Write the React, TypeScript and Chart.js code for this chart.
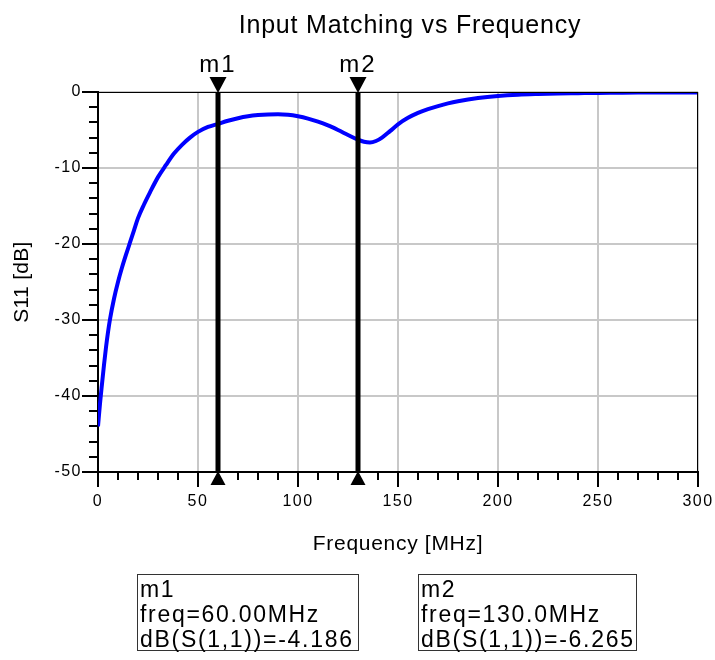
import React, { useEffect, useRef } from 'react';
import { Chart, registerables } from 'chart.js';

Chart.register(...registerables);

const freqMHz = [0, 1, 2, 3, 4, 5, 6, 8, 10, 12, 14, 16, 18, 20, 23, 26, 30, 34, 38, 42, 46, 50, 55, 60, 65, 70, 75, 80, 85, 90, 95, 100, 105, 110, 115, 120, 125, 130, 133, 136, 139, 142, 146, 150, 155, 160, 165, 170, 175, 180, 190, 200, 210, 220, 230, 240, 250, 260, 270, 280, 290, 300];
const s11dB = [-44.0, -41.0, -38.4, -35.9, -33.6, -31.6, -29.9, -27.2, -25.0, -23.1, -21.4, -19.8, -18.2, -16.6, -14.8, -13.2, -11.2, -9.6, -8.1, -6.95, -6.0, -5.25, -4.6, -4.19, -3.78, -3.45, -3.2, -3.04, -2.95, -2.93, -3.0, -3.2, -3.5, -3.9, -4.4, -5.0, -5.65, -6.27, -6.55, -6.65, -6.45, -6.0, -5.15, -4.25, -3.4, -2.75, -2.25, -1.85, -1.5, -1.22, -0.8, -0.52, -0.35, -0.26, -0.2, -0.16, -0.12, -0.1, -0.08, -0.07, -0.06, -0.05];

const xMajorTicks = [0, 50, 100, 150, 200, 250, 300];
const yMajorTicks = [0, -10, -20, -30, -40, -50];

const markerNames = ['m1', 'm2'];
const markerFreqs = [60, 130];
const markerFreqText = ['60.00MHz', '130.0MHz'];
const markerValueText = ['-4.186', '-6.265'];

const chartTitle = 'Input Matching vs Frequency';
const xTitle = 'Frequency [MHz]';
const yTitle = 'S11 [dB]';

const FONT = '"Liberation Sans", Arial, sans-serif';

const decor = {
  id: 'decor',
  beforeDraw(chart: any) {
    chart.ctx.letterSpacing = '1.5px';
  },
  afterDatasetsDraw(chart: any) {
    const { ctx, chartArea: a, scales } = chart;
    const x = scales.x;
    const y = scales.y;
    ctx.save();
    ctx.strokeStyle = '#000';
    ctx.fillStyle = '#000';
    // top & right frame
    ctx.lineWidth = 1;
    ctx.beginPath();
    ctx.moveTo(a.left, a.top + 0.5);
    ctx.lineTo(a.right, a.top + 0.5);
    ctx.moveTo(a.right - 0.5, a.top);
    ctx.lineTo(a.right - 0.5, a.bottom);
    ctx.stroke();
    // tick marks
    ctx.lineWidth = 2;
    ctx.beginPath();
    x.ticks.forEach((t: any) => {
      const v = Math.round(t.value);
      const px = Math.round(x.getPixelForValue(v));
      const len = xMajorTicks.includes(v) ? 15 : 8;
      ctx.moveTo(px, a.bottom);
      ctx.lineTo(px, a.bottom + len);
    });
    y.ticks.forEach((t: any) => {
      const v = Math.round(t.value);
      const py = Math.round(y.getPixelForValue(v));
      const len = yMajorTicks.includes(v) ? 16 : 9;
      ctx.moveTo(a.left - len, py);
      ctx.lineTo(a.left, py);
    });
    ctx.stroke();
    // markers
    markerFreqs.forEach((f, i) => {
      const px = x.getPixelForValue(f);
      ctx.lineWidth = 5;
      ctx.beginPath();
      ctx.moveTo(px, a.top);
      ctx.lineTo(px, a.bottom);
      ctx.stroke();
      ctx.beginPath();
      ctx.moveTo(px - 8.5, a.top - 15);
      ctx.lineTo(px + 8.5, a.top - 15);
      ctx.lineTo(px, a.top + 1);
      ctx.closePath();
      ctx.fill();
      ctx.beginPath();
      ctx.moveTo(px - 7.5, a.bottom + 13);
      ctx.lineTo(px + 7.5, a.bottom + 13);
      ctx.lineTo(px, a.bottom - 1);
      ctx.closePath();
      ctx.fill();
      ctx.font = `24px ${FONT}`;
      ctx.letterSpacing = '2px';
      ctx.textAlign = 'center';
      ctx.textBaseline = 'alphabetic';
      ctx.fillText(markerNames[i], px, a.top - 20);
    });
    // axis titles
    ctx.letterSpacing = '0.7px';
    ctx.font = `21px ${FONT}`;
    ctx.textAlign = 'center';
    ctx.textBaseline = 'alphabetic';
    ctx.fillText(xTitle, (a.left + a.right) / 2, 550);
    ctx.translate(28, (a.top + a.bottom) / 2);
    ctx.rotate(-Math.PI / 2);
    ctx.letterSpacing = '0.3px';
    ctx.fillText(yTitle, 0, 0);
    ctx.restore();
  },
};

export default function App() {
  const canvasRef = useRef<HTMLCanvasElement | null>(null);

  useEffect(() => {
    document.body.style.margin = '0';
    const canvas = canvasRef.current;
    if (!canvas) return;
    const chart = new Chart(canvas, {
      type: 'line',
      data: {
        datasets: [
          {
            data: freqMHz.map((f, i) => ({ x: f, y: s11dB[i] })),
            borderColor: '#0000ff',
            borderWidth: 4,
            pointRadius: 0,
            cubicInterpolationMode: 'monotone',
            fill: false,
          },
        ],
      },
      options: {
        responsive: false,
        animation: false,
        events: [],
        layout: { padding: { top: 92, right: 17, bottom: 0, left: 0 } },
        plugins: {
          legend: { display: false },
          tooltip: { enabled: false },
          title: { display: false },
        },
        scales: {
          x: {
            type: 'linear',
            min: 0,
            max: 300,
            afterFit: (s: any) => {
              s.height = 188;
              s.paddingLeft = 0;
              s.paddingRight = 0;
            },
            ticks: {
              stepSize: 10,
              autoSkip: false,
              maxRotation: 0,
              padding: 20,
              color: '#000',
              font: { family: FONT, size: 16 },
              callback: (v: any) => (xMajorTicks.includes(Math.round(Number(v))) ? String(Math.round(Number(v))) : ''),
            },
            grid: {
              drawTicks: false,
              lineWidth: 2,
              color: (c: any) => (c.tick && xMajorTicks.includes(Math.round(c.tick.value)) ? '#c8c8c8' : 'rgba(0,0,0,0)'),
            },
            border: { display: true, color: '#000', width: 2 },
          },
          y: {
            type: 'linear',
            min: -50,
            max: 0,
            afterFit: (s: any) => {
              s.width = 98;
              s.paddingTop = 0;
              s.paddingBottom = 0;
            },
            ticks: {
              stepSize: 2,
              autoSkip: false,
              padding: 16,
              color: '#000',
              font: { family: FONT, size: 16 },
              callback: (v: any) => (yMajorTicks.includes(Math.round(Number(v))) ? String(Math.round(Number(v))) : ''),
            },
            grid: {
              drawTicks: false,
              lineWidth: 2,
              color: (c: any) => (c.tick && yMajorTicks.includes(Math.round(c.tick.value)) ? '#c8c8c8' : 'rgba(0,0,0,0)'),
            },
            border: { display: true, color: '#000', width: 2 },
          },
        },
      },
      plugins: [decor],
    } as any);
    return () => chart.destroy();
  }, []);

  const boxStyle = (left: number, width: number): React.CSSProperties => ({
    position: 'absolute',
    left,
    top: 574,
    width,
    height: 77,
    boxSizing: 'border-box',
    border: '1px solid #333',
    paddingTop: 2,
    paddingLeft: 2,
    fontFamily: FONT,
    fontSize: 23,
    lineHeight: '25px',
    letterSpacing: '1.7px',
    color: '#000',
    whiteSpace: 'nowrap',
    background: '#fff',
  });

  return (
    <div style={{ position: 'relative', width: 715, height: 660, background: '#fff', overflow: 'hidden' }}>
      <canvas ref={canvasRef} width={715} height={660} style={{ position: 'absolute', left: 0, top: 0, width: 715, height: 660 }} />
      <div
        style={{
          position: 'absolute',
          left: 0,
          top: 9,
          width: 820,
          textAlign: 'center',
          fontFamily: FONT,
          fontSize: 25,
          lineHeight: '30px',
          letterSpacing: '0.8px',
          color: '#000',
          whiteSpace: 'nowrap',
        }}
      >
        {chartTitle}
      </div>
      {markerNames.map((name, i) => (
        <div key={name} style={boxStyle(i === 0 ? 137 : 418, i === 0 ? 222 : 219)}>
          <div>{name}</div>
          <div>freq={markerFreqText[i]}</div>
          <div>dB(S(1,1))={markerValueText[i]}</div>
        </div>
      ))}
    </div>
  );
}
